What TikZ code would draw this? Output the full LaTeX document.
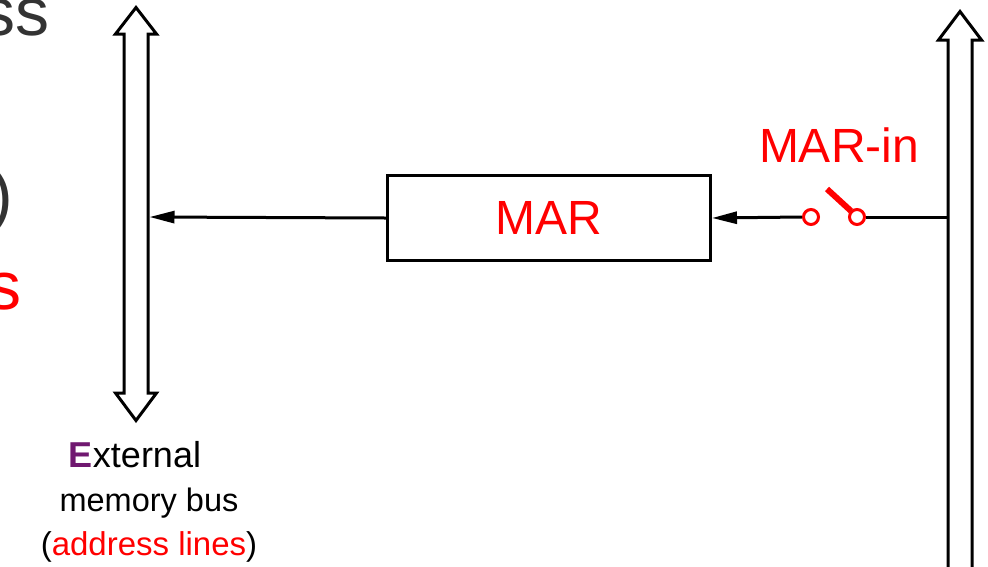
\documentclass[tikz,border=0pt]{standalone}
\usepackage{fontspec}
\setmainfont{Liberation Sans}
\usetikzlibrary{arrows.meta}
\definecolor{myred}{RGB}{255,0,0}
\definecolor{mypurple}{RGB}{112,24,112}
\definecolor{mygray}{RGB}{51,51,51}
\tikzset{
  bus/.style={draw=black, line width=3pt, fill=white, line join=miter, miter limit=10},
  wire/.style={draw=black, line width=3pt},
  arr/.style={wire, -{Triangle[length=25pt,width=12pt]}},
  regbox/.style={draw=black, line width=3pt, minimum width=323pt, minimum height=85pt, inner sep=0pt, font=\fontsize{48}{56}\selectfont, text=myred},
  contact/.style={circle, draw=myred, line width=3pt, fill=white, minimum size=15pt, inner sep=0pt},
  lever/.style={draw=myred, line width=6pt},
  bigtxt/.style={inner sep=0pt, anchor=base east, font=\fontsize{68}{80}\selectfont},
  captxt/.style={inner sep=0pt, anchor=base, font=\fontsize{33}{44}\selectfont},
}
\begin{document}
\begin{tikzpicture}[x=1pt,y=-1pt]
\useasboundingbox (0,0) rectangle (988,566);
\clip (0,0) rectangle (988,566);

% clipped texts at the left edge
\node[bigtxt, text=mygray] (ss) at (50,35) {ss};
\node[bigtxt, text=mygray] (paren) at (13.5,218) {)};
\node[bigtxt, text=myred] (reds) at (22,309) {s};

% left bus (double-headed)
\draw[bus] (124,34) -- (115.5,34) -- (136,7.5) -- (156.5,34) -- (148,34)
  -- (148,393) -- (156.5,393) -- (136,420.5) -- (115.5,393) -- (124,393) -- cycle;
\coordinate (busL) at (149.5,217);

% right bus (up arrow)
\draw[bus] (948,580) -- (948,40) -- (938.5,40) -- (960,11.5) -- (981.5,40) -- (972,40) -- (972,580);
\coordinate (busR) at (948,217);

% MAR register
\node[regbox] (mar) at (549,218) {MAR};

% switch
\node[contact] (swL) at (811,217) {};
\node[contact] (swR) at (857,217) {};
\draw[lever] (827,189) -- (851,211);
\node[inner sep=0pt, anchor=base, text=myred, font=\fontsize{48}{56}\selectfont] (marin) at (839,162) {MAR-in};

% connectors
\draw[arr] (mar.west) -- (busL);
\draw[arr] (swL.west) -- (mar.east);
\draw[wire] (swR.east) -- (busR);

% caption
\node[captxt, font=\fontsize{36}{44}\selectfont] (cap1) at (149,467) {\textcolor{mypurple}{\textbf{E}}xternal\hspace*{28pt}};
\node[captxt, font=\fontsize{32.5}{44}\selectfont] (cap2) at (149,511) {memory bus};
\node[captxt] (cap3) at (149,555) {(\textcolor{myred}{address lines})};
\end{tikzpicture}
\end{document}
